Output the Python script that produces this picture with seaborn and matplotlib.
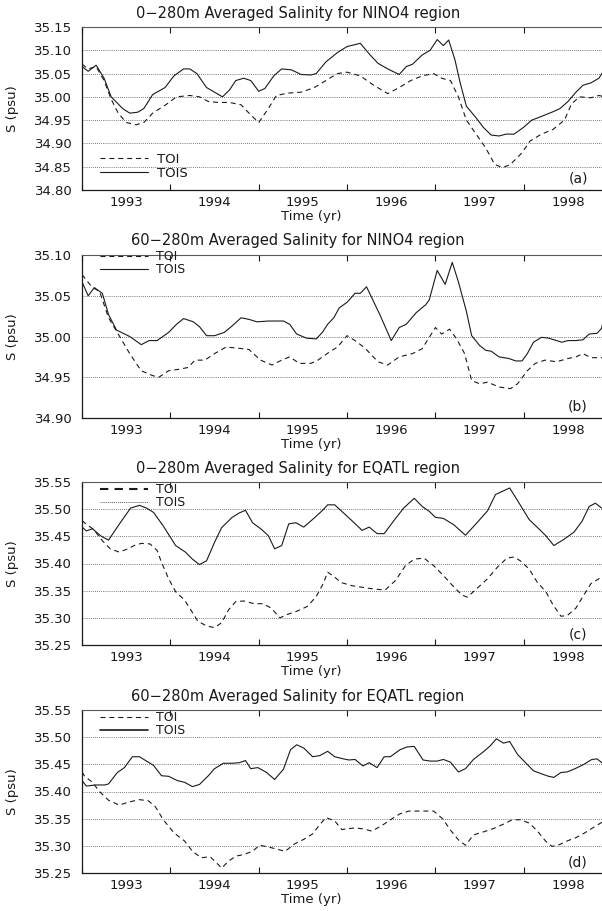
import matplotlib
matplotlib.use("Agg")
import matplotlib.pyplot as plt
from matplotlib.lines import Line2D
import seaborn as sns

# ---------------- data ----------------
year_ticks = [1993, 1994, 1995, 1996, 1997, 1998]
year_label_pos = [1993.5, 1994.5, 1995.5, 1996.5, 1997.5, 1998.5]
year_labels = ["1993", "1994", "1995", "1996", "1997", "1998"]

titles = ["0\u2212280m Averaged Salinity for NINO4 region",
          "60\u2212280m Averaged Salinity for NINO4 region",
          "0\u2212280m Averaged Salinity for EQATL region",
          "60\u2212280m Averaged Salinity for EQATL region"]
panel_tags = ["(a)", "(b)", "(c)", "(d)"]
series_names = ["TOI", "TOIS"]

yticks_a = [34.80, 34.85, 34.90, 34.95, 35.00, 35.05, 35.10, 35.15]
yticks_b = [34.90, 34.95, 35.00, 35.05, 35.10]
yticks_c = [35.25, 35.30, 35.35, 35.40, 35.45, 35.50, 35.55]
yticks_d = [35.25, 35.30, 35.35, 35.40, 35.45, 35.50, 35.55]

# Panel (a) 0-280m NINO4
t_a_tois = [1993.00, 1993.07, 1993.16, 1993.25, 1993.33, 1993.46, 1993.54, 1993.63, 1993.70, 1993.80,
            1993.94, 1994.04, 1994.15, 1994.22, 1994.30, 1994.41, 1994.59, 1994.67, 1994.74, 1994.83,
            1994.91, 1995.00, 1995.07, 1995.17, 1995.26, 1995.37, 1995.48, 1995.59, 1995.65, 1995.76,
            1995.89, 1996.00, 1996.15, 1996.26, 1996.35, 1996.46, 1996.59, 1996.67, 1996.74, 1996.85,
            1996.94, 1997.02, 1997.09, 1997.15, 1997.22, 1997.28, 1997.35, 1997.46, 1997.54, 1997.63,
            1997.72, 1997.80, 1997.89, 1998.00, 1998.09, 1998.20, 1998.33, 1998.41, 1998.50, 1998.59,
            1998.67, 1998.76, 1998.85, 1998.91]
s_a_tois = [35.065, 35.055, 35.068, 35.040, 35.000, 34.975, 34.965, 34.967, 34.975, 35.005,
            35.020, 35.045, 35.060, 35.060, 35.050, 35.020, 35.000, 35.015, 35.035, 35.040,
            35.035, 35.012, 35.018, 35.045, 35.060, 35.058, 35.048, 35.047, 35.050, 35.075,
            35.095, 35.108, 35.115, 35.090, 35.072, 35.060, 35.048, 35.065, 35.070, 35.090,
            35.100, 35.123, 35.110, 35.122, 35.080, 35.030, 34.980, 34.955, 34.935, 34.918,
            34.916, 34.920, 34.920, 34.935, 34.950, 34.958, 34.968, 34.975, 34.990, 35.010,
            35.025, 35.030, 35.040, 35.058]
t_a_toi = [1993.00, 1993.07, 1993.16, 1993.25, 1993.33, 1993.41, 1993.50, 1993.61, 1993.70, 1993.80,
           1993.94, 1994.07, 1994.22, 1994.33, 1994.43, 1994.54, 1994.67, 1994.80, 1994.89, 1995.00,
           1995.11, 1995.20, 1995.33, 1995.48, 1995.63, 1995.76, 1995.89, 1996.00, 1996.15, 1996.30,
           1996.46, 1996.59, 1996.72, 1996.85, 1996.98, 1997.07, 1997.17, 1997.26, 1997.35, 1997.46,
           1997.57, 1997.67, 1997.76, 1997.85, 1997.98, 1998.07, 1998.20, 1998.33, 1998.46, 1998.54,
           1998.63, 1998.76, 1998.85, 1998.91]
s_a_toi = [35.070, 35.060, 35.065, 35.035, 34.995, 34.965, 34.945, 34.940, 34.945, 34.965,
           34.982, 35.000, 35.003, 35.000, 34.990, 34.988, 34.988, 34.983, 34.965, 34.945,
           34.975, 35.003, 35.008, 35.010, 35.020, 35.035, 35.050, 35.053, 35.045, 35.025,
           35.007, 35.020, 35.035, 35.045, 35.050, 35.040, 35.035, 35.000, 34.950, 34.920,
           34.890, 34.855, 34.848, 34.855, 34.880, 34.905, 34.920, 34.930, 34.950, 34.985,
           35.000, 34.998, 35.003, 35.000]

# Panel (b) 60-280m NINO4
t_b_tois = [1993.00, 1993.07, 1993.14, 1993.23, 1993.30, 1993.39, 1993.54, 1993.67, 1993.76, 1993.85,
            1993.98, 1994.07, 1994.15, 1994.26, 1994.33, 1994.41, 1994.50, 1994.61, 1994.70, 1994.80,
            1994.89, 1994.98, 1995.11, 1995.28, 1995.35, 1995.43, 1995.54, 1995.65, 1995.72, 1995.78,
            1995.85, 1995.91, 1996.00, 1996.09, 1996.15, 1996.22, 1996.37, 1996.50, 1996.59, 1996.67,
            1996.78, 1996.89, 1996.93, 1997.02, 1997.11, 1997.19, 1997.26, 1997.35, 1997.41, 1997.50,
            1997.57, 1997.63, 1997.72, 1997.83, 1997.91, 1997.98, 1998.04, 1998.11, 1998.20, 1998.28,
            1998.37, 1998.43, 1998.50, 1998.59, 1998.67, 1998.74, 1998.83, 1998.88, 1998.91]
s_b_tois = [35.067, 35.050, 35.060, 35.053, 35.027, 35.008, 35.000, 34.990, 34.995, 34.995,
            35.005, 35.015, 35.022, 35.018, 35.012, 35.001, 35.001, 35.005, 35.013, 35.023,
            35.021, 35.018, 35.019, 35.019, 35.015, 35.003, 34.998, 34.997, 35.005, 35.015,
            35.023, 35.035, 35.042, 35.053, 35.053, 35.061, 35.027, 34.995, 35.011, 35.015,
            35.029, 35.039, 35.045, 35.081, 35.064, 35.091, 35.067, 35.031, 35.001, 34.989,
            34.983, 34.982, 34.975, 34.973, 34.970, 34.970, 34.979, 34.993, 34.999, 34.998,
            34.995, 34.993, 34.995, 34.995, 34.996, 35.003, 35.004, 35.010, 35.025]
t_b_toi = [1993.00, 1993.11, 1993.20, 1993.30, 1993.41, 1993.54, 1993.67, 1993.80, 1993.87, 1993.98,
           1994.11, 1994.20, 1994.28, 1994.39, 1994.50, 1994.63, 1994.74, 1994.89, 1995.02, 1995.15,
           1995.26, 1995.35, 1995.46, 1995.59, 1995.67, 1995.80, 1995.89, 1996.00, 1996.09, 1996.20,
           1996.35, 1996.46, 1996.59, 1996.74, 1996.85, 1996.93, 1997.00, 1997.07, 1997.16, 1997.24,
           1997.33, 1997.41, 1997.50, 1997.59, 1997.72, 1997.85, 1997.93, 1998.04, 1998.13, 1998.24,
           1998.37, 1998.50, 1998.59, 1998.67, 1998.76, 1998.91]
s_b_toi = [35.076, 35.061, 35.055, 35.023, 35.003, 34.979, 34.958, 34.952, 34.950, 34.958,
           34.960, 34.962, 34.971, 34.971, 34.979, 34.987, 34.986, 34.984, 34.971, 34.965,
           34.971, 34.975, 34.967, 34.967, 34.971, 34.981, 34.987, 35.001, 34.995, 34.986,
           34.969, 34.965, 34.975, 34.979, 34.985, 34.999, 35.011, 35.003, 35.009, 34.997,
           34.979, 34.946, 34.942, 34.944, 34.938, 34.936, 34.942, 34.958, 34.967, 34.971,
           34.969, 34.973, 34.975, 34.979, 34.974, 34.974]

# Panel (c) 0-280m EQATL
t_c_tois = [1993.00, 1993.05, 1993.12, 1993.21, 1993.30, 1993.42, 1993.55, 1993.65, 1993.73, 1993.81,
            1993.92, 1994.06, 1994.17, 1994.25, 1994.33, 1994.41, 1994.50, 1994.58, 1994.70, 1994.78,
            1994.85, 1994.93, 1995.03, 1995.11, 1995.18, 1995.26, 1995.34, 1995.42, 1995.51, 1995.63,
            1995.73, 1995.78, 1995.86, 1995.96, 1996.06, 1996.17, 1996.25, 1996.34, 1996.42, 1996.53,
            1996.64, 1996.76, 1996.85, 1996.93, 1997.00, 1997.09, 1997.21, 1997.34, 1997.47, 1997.59,
            1997.68, 1997.76, 1997.84, 1997.94, 1998.06, 1998.15, 1998.25, 1998.34, 1998.45, 1998.57,
            1998.66, 1998.74, 1998.81, 1998.89]
s_c_tois = [35.467, 35.460, 35.464, 35.451, 35.443, 35.472, 35.502, 35.507, 35.502, 35.494,
            35.469, 35.433, 35.421, 35.408, 35.398, 35.405, 35.439, 35.466, 35.485, 35.493,
            35.498, 35.475, 35.463, 35.451, 35.427, 35.433, 35.473, 35.475, 35.467, 35.484,
            35.499, 35.508, 35.508, 35.493, 35.478, 35.461, 35.467, 35.455, 35.455, 35.479,
            35.502, 35.520, 35.505, 35.496, 35.485, 35.483, 35.471, 35.452, 35.475, 35.497,
            35.527, 35.533, 35.539, 35.513, 35.481, 35.467, 35.451, 35.433, 35.444, 35.458,
            35.478, 35.505, 35.511, 35.501]
t_c_toi = [1993.00, 1993.05, 1993.13, 1993.23, 1993.32, 1993.42, 1993.52, 1993.59, 1993.67, 1993.77,
           1993.85, 1993.90, 1993.98, 1994.06, 1994.16, 1994.23, 1994.31, 1994.41, 1994.50, 1994.58,
           1994.66, 1994.74, 1994.83, 1994.95, 1995.05, 1995.14, 1995.24, 1995.32, 1995.43, 1995.55,
           1995.65, 1995.73, 1995.78, 1995.86, 1995.93, 1996.06, 1996.26, 1996.43, 1996.55, 1996.66,
           1996.76, 1996.87, 1996.98, 1997.09, 1997.19, 1997.30, 1997.36, 1997.47, 1997.59, 1997.70,
           1997.81, 1997.89, 1997.96, 1998.06, 1998.15, 1998.25, 1998.33, 1998.42, 1998.49, 1998.59,
           1998.68, 1998.76, 1998.85, 1998.89]
s_c_toi = [35.479, 35.472, 35.463, 35.442, 35.427, 35.421, 35.427, 35.433, 35.437, 35.436,
           35.424, 35.402, 35.372, 35.348, 35.333, 35.315, 35.294, 35.285, 35.282, 35.291,
           35.315, 35.330, 35.331, 35.326, 35.326, 35.318, 35.300, 35.306, 35.312, 35.321,
           35.339, 35.363, 35.384, 35.375, 35.365, 35.359, 35.354, 35.351, 35.369, 35.396,
           35.408, 35.410, 35.396, 35.378, 35.360, 35.342, 35.338, 35.354, 35.372, 35.393,
           35.410, 35.412, 35.405, 35.390, 35.366, 35.348, 35.324, 35.303, 35.304, 35.318,
           35.342, 35.363, 35.372, 35.375]

# Panel (d) 60-280m EQATL
t_d_tois = [1993.00, 1993.05, 1993.15, 1993.26, 1993.30, 1993.40, 1993.48, 1993.57, 1993.65, 1993.73,
            1993.81, 1993.90, 1993.98, 1994.08, 1994.16, 1994.25, 1994.33, 1994.43, 1994.50, 1994.60,
            1994.70, 1994.78, 1994.85, 1994.91, 1994.99, 1995.09, 1995.18, 1995.28, 1995.36, 1995.43,
            1995.51, 1995.61, 1995.69, 1995.78, 1995.86, 1995.96, 1996.02, 1996.09, 1996.18, 1996.25,
            1996.34, 1996.42, 1996.49, 1996.60, 1996.68, 1996.76, 1996.86, 1996.94, 1997.02, 1997.09,
            1997.17, 1997.26, 1997.34, 1997.43, 1997.55, 1997.62, 1997.69, 1997.77, 1997.84, 1997.93,
            1998.02, 1998.11, 1998.21, 1998.28, 1998.34, 1998.42, 1998.49, 1998.58, 1998.68, 1998.77,
            1998.83, 1998.89]
s_d_tois = [35.420, 35.410, 35.412, 35.412, 35.414, 35.435, 35.444, 35.464, 35.464, 35.456,
            35.448, 35.429, 35.428, 35.420, 35.417, 35.409, 35.413, 35.429, 35.442, 35.452,
            35.452, 35.453, 35.457, 35.442, 35.444, 35.435, 35.422, 35.441, 35.477, 35.486,
            35.480, 35.464, 35.466, 35.474, 35.464, 35.460, 35.458, 35.459, 35.447, 35.453,
            35.444, 35.464, 35.464, 35.477, 35.482, 35.483, 35.458, 35.456, 35.456, 35.459,
            35.454, 35.436, 35.442, 35.459, 35.474, 35.484, 35.497, 35.489, 35.492, 35.468,
            35.453, 35.438, 35.432, 35.428, 35.426, 35.435, 35.436, 35.442, 35.450, 35.459,
            35.460, 35.452]
t_d_toi = [1993.00, 1993.03, 1993.11, 1993.21, 1993.30, 1993.42, 1993.54, 1993.65, 1993.75, 1993.83,
           1993.92, 1994.04, 1994.16, 1994.25, 1994.35, 1994.45, 1994.52, 1994.58, 1994.66, 1994.74,
           1994.83, 1994.93, 1995.01, 1995.11, 1995.20, 1995.30, 1995.40, 1995.51, 1995.61, 1995.69,
           1995.76, 1995.86, 1995.94, 1996.09, 1996.19, 1996.28, 1996.40, 1996.51, 1996.60, 1996.70,
           1996.81, 1996.98, 1997.08, 1997.17, 1997.26, 1997.34, 1997.43, 1997.55, 1997.66, 1997.77,
           1997.87, 1997.96, 1998.06, 1998.15, 1998.25, 1998.32, 1998.40, 1998.49, 1998.59, 1998.68,
           1998.77, 1998.89]
s_d_toi = [35.436, 35.428, 35.418, 35.398, 35.384, 35.375, 35.381, 35.385, 35.383, 35.372,
           35.348, 35.324, 35.309, 35.290, 35.278, 35.280, 35.269, 35.259, 35.272, 35.281,
           35.284, 35.290, 35.301, 35.298, 35.294, 35.290, 35.303, 35.312, 35.322, 35.339,
           35.352, 35.346, 35.330, 35.333, 35.331, 35.327, 35.338, 35.350, 35.359, 35.364,
           35.364, 35.364, 35.350, 35.329, 35.311, 35.301, 35.320, 35.326, 35.332, 35.340,
           35.348, 35.348, 35.342, 35.328, 35.308, 35.299, 35.302, 35.309, 35.315, 35.323,
           35.332, 35.344]

# ---------------- styling / layout ----------------
sns.set_theme(style="white")
plt.rcParams["font.family"] = ["DejaVu Sans"]
plt.rcParams["axes.linewidth"] = 0.9

W, H = 602, 911
AX_LEFT, AX_W, AX_H = 82, 520, 163
panel_tops = [27, 255, 482, 710]
INK = "#1a1a1a"
DASH = (0, (4.5, 3.5))

panels = [
    (t_a_toi, s_a_toi, t_a_tois, s_a_tois, yticks_a),
    (t_b_toi, s_b_toi, t_b_tois, s_b_tois, yticks_b),
    (t_c_toi, s_c_toi, t_c_tois, s_c_tois, yticks_c),
    (t_d_toi, s_d_toi, t_d_tois, s_d_tois, yticks_d),
]

fig = plt.figure(figsize=(W / 100, H / 100), dpi=100)

for i, (t1, s1, t2, s2, yt) in enumerate(panels):
    top = panel_tops[i]
    ax = fig.add_axes([AX_LEFT / W, (H - top - AX_H) / H, AX_W / W, AX_H / H])

    sns.lineplot(x=t1, y=s1, ax=ax, color=INK, lw=0.8, linestyle=DASH,
                 estimator=None, sort=False)
    sns.lineplot(x=t2, y=s2, ax=ax, color=INK, lw=0.8,
                 estimator=None, sort=False)

    ax.set_xlim(1993.0, 1998.885)
    ax.set_ylim(yt[0], yt[-1])
    ax.set_yticks(yt)
    ax.set_yticklabels([f"{v:.2f}" for v in yt])
    ax.yaxis.grid(True, linestyle=(0, (1, 1.5)), color="0.3", lw=0.6)
    ax.xaxis.grid(False)

    ax.set_xticks(year_ticks)
    ax.set_xticklabels([])
    ax.set_xticks(year_label_pos, minor=True)
    ax.set_xticklabels(year_labels, minor=True)
    ax.tick_params(axis="x", which="major", direction="in", length=4, width=0.8,
                   top=True, bottom=True, color=INK)
    ax.tick_params(axis="x", which="minor", length=0, pad=4.5,
                   labelsize=9.5, labelcolor=INK)
    ax.tick_params(axis="y", length=0, pad=7, labelsize=9.5, labelcolor=INK)

    for side in ["left", "bottom"]:
        ax.spines[side].set_color(INK)
        ax.spines[side].set_linewidth(0.9)
    ax.spines["top"].set_color("0.35")
    ax.spines["top"].set_linewidth(0.8)
    ax.spines["right"].set_visible(False)

    ax.set_title(titles[i], x=0.415, y=1 + 14 / AX_H, va="center", pad=0,
                 fontsize=10.5, color=INK)
    ax.set_xlabel("Time (yr)", fontsize=9.5, color=INK)
    ax.xaxis.set_label_coords(0.44, -20 / AX_H)
    ax.set_ylabel("S (psu)", fontsize=9.5, color=INK)
    ax.yaxis.set_label_coords(-63 / AX_W, 0.5)
    ax.text(0.954, 11 / AX_H, panel_tags[i], transform=ax.transAxes,
            ha="center", va="center", fontsize=10, color=INK)

    # legends
    if i == 2:
        handles = [Line2D([], [], color=INK, lw=1.5, linestyle=(0, (4, 3))),
                   Line2D([], [], color="0.35", lw=0.7, linestyle=(0, (1, 1)))]
    elif i == 3:
        handles = [Line2D([], [], color=INK, lw=0.8, linestyle=DASH),
                   Line2D([], [], color=INK, lw=1.2)]
    else:
        handles = [Line2D([], [], color=INK, lw=0.8, linestyle=DASH),
                   Line2D([], [], color=INK, lw=0.8)]
    common = dict(handles=handles, labels=series_names, frameon=False,
                  handletextpad=0.7, borderpad=0, borderaxespad=0,
                  labelcolor=INK)
    x0 = 18 / AX_W
    if i == 0:
        ax.legend(loc="lower left", bbox_to_anchor=(x0, 10 / AX_H),
                  labelspacing=0.1, fontsize=9.5, handlelength=3.6, **common)
    elif i == 1:
        ax.legend(loc="upper left", bbox_to_anchor=(x0, 1 + 5 / AX_H),
                  labelspacing=0.0, fontsize=9, handlelength=3.8, **common)
    else:
        ax.legend(loc="upper left", bbox_to_anchor=(x0, 1 - 1 / AX_H),
                  labelspacing=0.0, fontsize=9, handlelength=3.8, **common)

fig.savefig("out.png", dpi=100)
